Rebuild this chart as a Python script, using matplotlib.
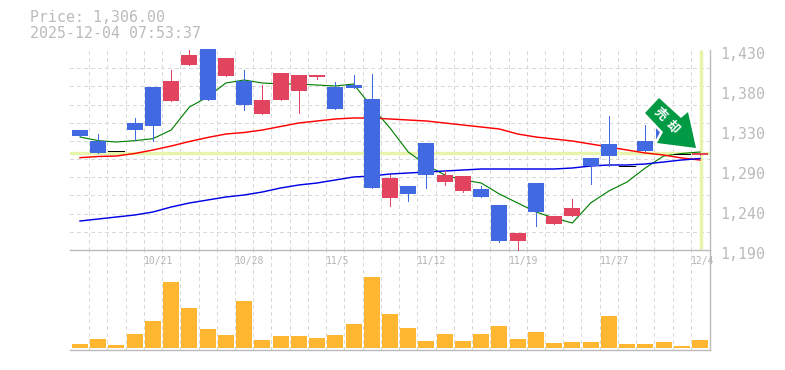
import numpy as np
import matplotlib
matplotlib.use("Agg")
import matplotlib.pyplot as plt
from matplotlib.patches import Polygon
from matplotlib.transforms import ScaledTranslation, Bbox, IdentityTransform

W, H = 785, 370

opens = [1326.8, 1306.4, 1308.4, 1334, 1338.8, 1392.8, 1424, 1370, 1420.4, 1364,
         1370, 1402.4, 1400, 1400, 1359.2, 1384.4, 1264.4, 1276.4, 1257.2, 1280,
         1280, 1278.8, 1253.6, 1200.8, 1210.4, 1235.6, 1230.8, 1240.4, 1290.8, 1302.8,
         1290.4, 1308.8, 1322, 1305.6, 1306.4]
closes = [1334, 1320.8, 1308.4, 1342.4, 1385.6, 1368.8, 1412, 1431.2, 1398.8, 1392.8,
          1353.2, 1370, 1380.8, 1397.6, 1385.6, 1388, 1371.2, 1252.4, 1266.8, 1318.4,
          1271.6, 1260.8, 1263.2, 1244, 1200.8, 1270.4, 1221.2, 1230.8, 1300.4, 1317.2,
          1290.4, 1320.8, 1336.4, 1305.6, 1304]
highs = [1334, 1329.2, 1308.4, 1348.4, 1385.6, 1406, 1430, 1431.2, 1420.4, 1406,
         1388, 1402.4, 1400, 1400, 1391.6, 1400, 1401.2, 1280, 1266.8, 1318.4,
         1284.8, 1278.8, 1266.8, 1244, 1210.4, 1270.4, 1230.8, 1251.2, 1300.4, 1350.8,
         1290.4, 1340, 1336.4, 1305.6, 1306.4]
lows = [1326.8, 1306.4, 1308.4, 1322, 1321.2, 1368.8, 1412, 1370, 1398.8, 1358,
        1353.2, 1370, 1354.4, 1395.2, 1359.2, 1384.4, 1264.4, 1242.8, 1248.8, 1264.4,
        1268, 1259.6, 1253.6, 1199.6, 1190, 1218.8, 1221.2, 1230.8, 1269.2, 1290.8,
        1290.4, 1308.8, 1322, 1305.6, 1304]
ma_short = [1325.6, 1321.2, 1319.6, 1321.2, 1323.6, 1334, 1361.6, 1373.6, 1390.4, 1394,
            1390.4, 1389.2, 1389.2, 1388, 1386.8, 1389.2, 1361.6, 1336.4, 1307.6, 1292,
            1280, 1274, 1270.4, 1257.2, 1246.4, 1235.6, 1228.4, 1222.4, 1246.4, 1260.8,
            1271.6, 1288.4, 1302.8, 1305.8, 1307.6]
ma_mid = [1300.8, 1302.2, 1302.8, 1305.8, 1310, 1314.8, 1320.2, 1325, 1329.2, 1331,
          1334, 1338.2, 1342.4, 1344.8, 1347.2, 1348.4, 1348.4, 1347.2, 1346, 1344.8,
          1342.4, 1340, 1337.6, 1335.2, 1329.2, 1325.6, 1323.2, 1320.8, 1317.2, 1313.6,
          1310, 1306.4, 1304, 1300.4, 1298]
ma_long = [1224.8, 1227.2, 1229.6, 1232, 1235.6, 1241.6, 1246.4, 1250, 1253.6, 1256,
           1259.6, 1264.4, 1268, 1270.4, 1274, 1277.6, 1278.8, 1281.2, 1282.4, 1283.6,
           1284.8, 1286, 1287.2, 1287.2, 1287.2, 1287.2, 1287.2, 1288.4, 1290.8, 1292,
           1292, 1293.2, 1295.6, 1298, 1299.8]
volumes = [4, 9, 3, 14, 27, 66, 40, 19, 13, 47, 8, 12, 12, 10, 13, 24, 71, 34, 20, 7,
           14, 7, 14, 22, 9, 16, 5, 6, 6, 32, 4, 4, 6, 2, 8]
date_index = [4, 9, 14, 19, 24, 29, 34]
date_labels = ["10/21", "10/28", "11/5", "11/12", "11/19", "11/27", "12/4"]
price_ticks = [1190, 1238, 1286, 1334, 1382, 1430]
price_labels = ["1,190", "1,240", "1,290", "1,330", "1,380", "1,430"]
last_price = 1306

GRAY = "#bbbbbb"
GRID = "#d9d9d9"
BLUE = "#4169e1"
RED = "#e2435f"
LIME = "#e6f5aa"
MONO = "DejaVu Sans Mono"
PX = 72 / 100

fig = plt.figure(figsize=(W / 100, H / 100), dpi=100, facecolor="white")
ax = fig.add_axes([70 / W, (H - 250) / H, 640 / W, 200 / H], zorder=2)
vx = fig.add_axes([70 / W, (H - 350) / H, 640 / W, 100 / H], zorder=1)

n = len(opens)
idx = np.arange(n)
xlim = (-0.548, n - 1 + 0.548)
bar_w = 16 / 18.235
grid_style = dict(color=GRID, linewidth=1.0 * PX, linestyle=(0, (4, 3)), antialiased=False)

for a in (ax, vx):
    a.set_xlim(*xlim)
    a.patch.set_alpha(0)
    for s in ("left", "top"):
        a.spines[s].set_visible(False)
    for s in ("right", "bottom"):
        a.spines[s].set_color(GRAY)
        a.spines[s].set_linewidth(1.4 * PX)
    a.set_axisbelow(True)
    a.set_xticks(idx[:-1] + 0.5, minor=True)
    a.xaxis.remove_overlapping_locs = False
    a.grid(False)
    a.grid(True, which="minor", axis="x", **grid_style)
    a.tick_params(which="both", length=0)

# price panel
ax.set_ylim(1190, 1430)
ax.set_yticks(np.linspace(1190, 1430, 12), minor=True)
ax.grid(True, which="minor", axis="y", **grid_style)
ax.set_yticks(price_ticks, price_labels)
ax.yaxis.tick_right()
ax.tick_params(axis="y", which="major", pad=10 * PX, labelsize=10.7, labelcolor=GRAY)
shift = ScaledTranslation(0, -3 / 100, fig.dpi_scale_trans)
for lab in ax.get_yticklabels():
    lab.set_family(MONO)
    lab.set_transform(lab.get_transform() + shift)
for tick in ax.yaxis.get_minor_ticks():
    tick.gridline.set_clip_on(False)

ax.set_xticks(np.array(date_index) - 0.5, date_labels)
ax.tick_params(axis="x", which="major", pad=6 * PX, labelsize=7, labelcolor="#b4b4b4")
for lab in ax.get_xticklabels():
    lab.set_family(MONO)
    lab.set_ha("left")
    lab.set_clip_box(Bbox([[0, 0], [713, H]]))
    lab.set_clip_on(True)

ax.axhline(last_price, color=LIME, linewidth=3.3 * PX, zorder=1.5)
ax.vlines(n - 1 + 0.03, 1191, 1430, color=LIME, linewidth=3.3 * PX, zorder=1.5)

ax.plot(idx, ma_short, color="#007f00", linewidth=1.15 * PX, zorder=2)
ax.plot(idx, ma_mid, color="#ff0000", linewidth=1.45 * PX, zorder=2.1)
ax.plot(idx, ma_long, color="#0000e6", linewidth=1.45 * PX, zorder=2.1)

for i in idx:
    o, c, hi, lo = opens[i], closes[i], highs[i], lows[i]
    col = BLUE if c > o else RED if c < o else "black"
    if c == o:
        ax.hlines(o, i - bar_w / 2, i + bar_w / 2, color="black", linewidth=1.0 * PX, zorder=3, antialiased=False)
        continue
    if hi > lo:
        ax.vlines(i, lo, hi, color=col, linewidth=1.0 * PX, zorder=3, clip_on=False, antialiased=False)
    ax.bar(i, abs(c - o), bottom=min(o, c), width=bar_w, color=col, linewidth=0, zorder=3.1, clip_on=False)

# volume panel
vx.set_ylim(-2, 98)
vx.set_yticks([])
vx.set_xticks([])
vx.set_xticks(idx[:-1] + 0.5, minor=True)
vx.bar(idx, volumes, width=bar_w, color="#ffb732", linewidth=0, zorder=3)

# signal arrow with a white halo (display pixel coordinates, y from the top)
arrow_px = [(659, 98), (645, 113), (663, 132), (657, 143), (696, 148), (688, 112), (681, 118)]
arrow_xy = [(x, H - y) for x, y in arrow_px]
fig.add_artist(Polygon(arrow_xy, closed=True, facecolor="white", edgecolor="white", linewidth=5 * PX,
                       joinstyle="round", transform=IdentityTransform(), zorder=9))
fig.add_artist(Polygon(arrow_xy, closed=True, facecolor="#009944", edgecolor="none",
                       transform=IdentityTransform(), zorder=10))
for s, (x, y) in zip("売却", [(660, 114), (672, 127)]):
    fig.text(x / W, 1 - y / H, s, color="white", fontsize=9, rotation=-45, ha="center", va="center",
             family=["Noto Sans CJK JP", "DejaVu Sans"], fontweight="bold", zorder=11)

# header
fig.text(30 / W, 1 - 18 / H, "Price: 1,306.00", color=GRAY, family=MONO, fontsize=10.7, va="center")
fig.text(30 / W, 1 - 33 / H, "2025-12-04 07:53:37", color=GRAY, family=MONO, fontsize=10.7, va="center")

fig.savefig("out.png", dpi=100, facecolor="white")
